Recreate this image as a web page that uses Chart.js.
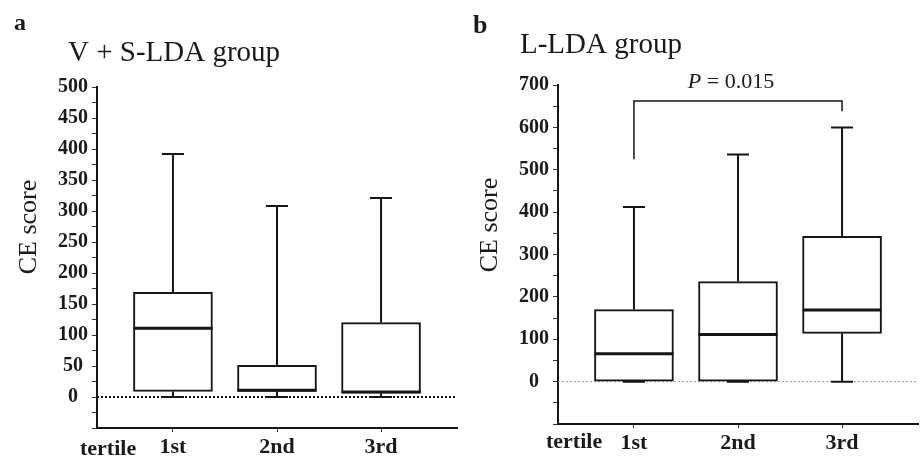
<!DOCTYPE html>
<html>
<head>
<meta charset="utf-8">
<script src="https://cdn.jsdelivr.net/npm/chart.js@4.4.1/dist/chart.umd.min.js"></script>
<style>
  body { margin: 0; background: #fff; width: 923px; height: 465px; overflow: hidden; position: relative; }
  canvas { position: absolute; top: 0; }
  #panelA { left: 0; }
  #panelB { left: 461px; }
</style>
</head>
<body>
<canvas id="panelA" width="461" height="465"></canvas>
<canvas id="panelB" width="462" height="465"></canvas>
<script>
const tertiles = ['1st', '2nd', '3rd'];

// a: V + S-LDA group
const vsMin = [0, 0, 0];
const vsQ1 = [9, 9, 6];
const vsMedian = [111, 11, 8];
const vsQ3 = [169, 51, 120];
const vsMax = [392, 308, 321];

// b: L-LDA group
const lMin = [0, 0, 0];
const lQ1 = [0, 0, 114];
const lMedian = [66, 111, 169];
const lQ3 = [170, 236, 343];
const lMax = [412, 536, 600];

const serif = "'Liberation Serif', 'Times New Roman', serif";
Chart.defaults.font.family = serif;
Chart.defaults.color = '#1a1a1a';

const BOX_W = 79;

// whiskers, medians, zero line and the loose text of each panel
const boxExtras = {
  id: 'boxExtras',
  beforeDatasetsDraw(chart, args, o) {
    const { ctx, chartArea: a, scales: { y } } = chart;
    const y0 = y.getPixelForValue(0);
    ctx.save();
    ctx.strokeStyle = o.zeroColor;
    ctx.lineWidth = o.zeroWidth;
    ctx.setLineDash([2, 2]);
    ctx.beginPath();
    ctx.moveTo(a.left, y0);
    ctx.lineTo(a.right, y0);
    ctx.stroke();
    ctx.restore();
  },
  afterDatasetsDraw(chart, args, o) {
    const { ctx, chartArea: a, scales: { x, y } } = chart;
    const s = o.stats;
    ctx.save();
    ctx.strokeStyle = '#151515';
    s.min.forEach((mn, i) => {
      const cx = x.getPixelForValue(i + 1);
      const yMax = y.getPixelForValue(s.max[i]);
      const yMin = y.getPixelForValue(mn);
      ctx.lineWidth = 2;
      ctx.beginPath();
      ctx.moveTo(cx, y.getPixelForValue(s.q3[i]));
      ctx.lineTo(cx, yMax);
      ctx.moveTo(cx, y.getPixelForValue(s.q1[i]));
      ctx.lineTo(cx, yMin);
      ctx.moveTo(cx - 11, yMax);
      ctx.lineTo(cx + 11, yMax);
      ctx.moveTo(cx - 11, yMin);
      ctx.lineTo(cx + 11, yMin);
      ctx.stroke();
      ctx.lineWidth = 3;
      const ym = y.getPixelForValue(s.med[i]);
      ctx.beginPath();
      ctx.moveTo(cx - BOX_W / 2, ym);
      ctx.lineTo(cx + BOX_W / 2, ym);
      ctx.stroke();
    });

    if (o.bracket) {
      const b = o.bracket;
      const x1 = x.getPixelForValue(b.from);
      const x2 = x.getPixelForValue(b.to);
      const yt = y.getPixelForValue(b.top);
      ctx.lineWidth = 1.5;
      ctx.beginPath();
      ctx.moveTo(x1, y.getPixelForValue(b.leftEnd));
      ctx.lineTo(x1, yt);
      ctx.lineTo(x2, yt);
      ctx.lineTo(x2, y.getPixelForValue(b.rightEnd));
      ctx.stroke();
      // "P = 0.015" with an italic P
      ctx.fillStyle = '#1a1a1a';
      ctx.textBaseline = 'alphabetic';
      ctx.font = 'italic 22px ' + serif;
      const wP = ctx.measureText('P').width;
      ctx.font = '22px ' + serif;
      const rest = ' = ' + b.label;
      const wR = ctx.measureText(rest).width;
      let sx = (x1 + x2) / 2 - 7 - (wP + wR) / 2;
      ctx.font = 'italic 22px ' + serif;
      ctx.fillText('P', sx, yt - 13);
      ctx.font = '22px ' + serif;
      ctx.fillText(rest, sx + wP, yt - 13);
    }

    ctx.fillStyle = '#1a1a1a';
    ctx.textBaseline = 'alphabetic';
    o.texts.forEach(t => {
      ctx.save();
      ctx.font = t.font;
      ctx.textAlign = t.align || 'left';
      ctx.translate(t.x, t.y);
      if (t.rotate) ctx.rotate(t.rotate);
      ctx.fillText(t.text, 0, 0);
      ctx.restore();
    });
    ctx.restore();
  }
};

function makePanel(id, st, cfg) {
  return new Chart(document.getElementById(id), {
    type: 'bar',
    data: {
      datasets: [{
        data: tertiles.map((t, i) => ({ x: i + 1, y: [st.q1[i], st.q3[i]] })),
        backgroundColor: '#ffffff',
        borderColor: '#151515',
        borderWidth: 2,
        borderSkipped: false,
        barThickness: BOX_W
      }]
    },
    options: {
      responsive: false,
      animation: false,
      layout: { padding: { top: cfg.top, right: cfg.right, left: 0, bottom: 0 } },
      scales: {
        x: {
          type: 'linear',
          min: 0.27,
          max: 3.73,
          offset: false,
          afterBuildTicks: s => { s.ticks = tertiles.map((t, i) => ({ value: i + 1 })); },
          afterFit: s => { s.height = cfg.xHeight; },
          ticks: {
            callback: v => tertiles[v - 1],
            font: { size: 22, weight: 'bold' },
            color: '#1a1a1a',
            padding: 2,
            maxRotation: 0
          },
          grid: { offset: false, drawOnChartArea: false, tickLength: 4, color: '#333' },
          border: { color: '#151515', width: 2 }
        },
        y: {
          min: cfg.yMin,
          max: cfg.yMax,
          afterFit: s => { s.width = 97; },
          ticks: {
            stepSize: cfg.minorStep,
            autoSkip: false,
            crossAlign: 'center',
            padding: 4,
            font: { size: 20, weight: 'bold' },
            color: '#1a1a1a',
            callback: v => (v >= 0 && v % cfg.labelStep === 0) ? v : ''
          },
          grid: { drawOnChartArea: false, tickLength: 5, color: '#333' },
          border: { color: '#151515', width: 2 }
        }
      },
      plugins: {
        legend: { display: false },
        tooltip: { enabled: false },
        boxExtras: {
          stats: st,
          zeroColor: cfg.zeroColor,
          zeroWidth: cfg.zeroWidth,
          bracket: cfg.bracket,
          texts: cfg.texts
        }
      }
    },
    plugins: [boxExtras]
  });
}

makePanel('panelA',
  { min: vsMin, q1: vsQ1, med: vsMedian, q3: vsQ3, max: vsMax },
  {
    top: 87, right: 4, xHeight: 37,
    yMin: -50, yMax: 500, minorStep: 25, labelStep: 50,
    zeroColor: '#111', zeroWidth: 2,
    texts: [
      { text: 'a', x: 14, y: 30, font: 'bold 24px ' + serif },
      { text: 'V + S-LDA group', x: 68, y: 61, font: '29px ' + serif },
      { text: 'CE score', x: 36, y: 227, font: '26px ' + serif, align: 'center', rotate: -Math.PI / 2 },
      { text: 'tertile', x: 80, y: 455, font: 'bold 22px ' + serif }
    ]
  });

makePanel('panelB',
  { min: lMin, q1: lQ1, med: lMedian, q3: lQ3, max: lMax },
  {
    top: 85, right: 5, xHeight: 41,
    yMin: -100, yMax: 700, minorStep: 50, labelStep: 100,
    zeroColor: '#9a9a9a', zeroWidth: 1,
    bracket: { from: 1, to: 3, top: 662, leftEnd: 525, rightEnd: 638, label: '0.015' },
    texts: [
      { text: 'b', x: 12, y: 33, font: 'bold 26px ' + serif },
      { text: 'L-LDA group', x: 59, y: 53, font: '29px ' + serif },
      { text: 'CE score', x: 36, y: 225, font: '26px ' + serif, align: 'center', rotate: -Math.PI / 2 },
      { text: 'tertile', x: 85, y: 448, font: 'bold 22px ' + serif }
    ]
  });
</script>
</body>
</html>
